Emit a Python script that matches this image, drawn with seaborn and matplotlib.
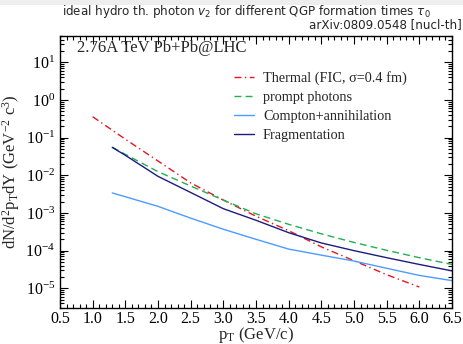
import matplotlib
matplotlib.use("Agg")
import matplotlib.pyplot as plt
from matplotlib.ticker import MultipleLocator, FixedLocator, LogFormatterSciNotation, NullFormatter
from matplotlib.patches import Rectangle
import seaborn as sns
import pandas as pd

# photon spectra, dN/d^2pT dY vs pT (GeV/c)
pt_thermal = [1.0, 1.5, 2.0, 2.5, 3.0, 3.5, 4.0, 4.5, 5.0, 5.5, 6.0]
thermal = [0.36, 0.091, 0.024, 6.3e-3, 2.2e-3, 8.2e-4, 3.4e-4, 1.26e-4, 5.4e-5, 2.3e-5, 1.08e-5]

pt_pqcd = [1.3, 1.5, 2.0, 2.5, 3.0, 3.5, 4.0, 4.5, 5.0, 5.5, 6.0, 6.5]
prompt = [0.056, 0.036, 0.0125, 5.2e-3, 2.2e-3, 9.5e-4, 5.0e-4, 2.8e-4, 1.65e-4, 1.02e-4, 6.5e-5, 4.3e-5]
compton = [3.4e-3, 2.7e-3, 1.5e-3, 7.3e-4, 3.7e-4, 2.0e-4, 1.1e-4, 7.6e-5, 5.3e-5, 3.4e-5, 2.2e-5, 1.6e-5]
fragmentation = [0.055, 0.034, 9.4e-3, 3.5e-3, 1.3e-3, 6.4e-4, 3.0e-4, 1.6e-4, 1.0e-4, 6.5e-5, 4.3e-5, 2.9e-5]

labels = ["Thermal (FIC, \u03c3=0.4 fm)", "prompt photons",
          "Compton+annihilation", "Fragmentation"]
x_ticks = [0.5, 1.0, 1.5, 2.0, 2.5, 3.0, 3.5, 4.0, 4.5, 5.0, 5.5, 6.0, 6.5]
y_ticks = [1e-5, 1e-4, 1e-3, 1e-2, 1e-1, 1e0, 1e1]

sns.set_style("ticks")
plt.rcParams["font.family"] = ["Liberation Serif", "DejaVu Serif"]
plt.rcParams["mathtext.fontset"] = "custom"
plt.rcParams["mathtext.rm"] = "Liberation Serif"
plt.rcParams["mathtext.it"] = "Liberation Serif:italic"

fig = plt.figure(figsize=(4.64, 3.44), dpi=100)
fig.patch.set_facecolor("white")
fig.patches.append(Rectangle((0, 1 - 5 / 344), 1, 5 / 344, transform=fig.transFigure,
                             facecolor="#eeeeee", edgecolor="none", zorder=0))
ax = fig.add_axes([60 / 464, 36 / 344, 392 / 464, 272 / 344])

series = [
    (pt_thermal, thermal, labels[0], "#e8141e", (0, (5, 2.5, 1, 2.5))),
    (pt_pqcd, prompt, labels[1], "#1fb050", (0, (5, 3))),
    (pt_pqcd, compton, labels[2], "#4a9cff", "-"),
    (pt_pqcd, fragmentation, labels[3], "#1c1c80", "-"),
]
for x, y, lab, col, ls in series:
    df = pd.DataFrame({"pT": x, "dN": y})
    sns.lineplot(data=df, x="pT", y="dN", ax=ax, color=col, linewidth=1.0,
                 linestyle=ls, label=lab)

ax.set_yscale("log")
ax.set_xlim(0.5, 6.5)
ax.set_ylim(3e-6, 50)
ax.set_xticks(x_ticks)
ax.set_xticklabels([f"{v:.1f}" for v in x_ticks])
ax.xaxis.set_minor_locator(MultipleLocator(0.1))
ax.yaxis.set_major_locator(FixedLocator(y_ticks))
ax.yaxis.set_major_formatter(LogFormatterSciNotation())
minor_y = [m * 10.0 ** e for e in range(-6, 2) for m in range(2, 10)
           if 3e-6 <= m * 10.0 ** e <= 50]
ax.yaxis.set_minor_locator(FixedLocator(minor_y))
ax.yaxis.set_minor_formatter(NullFormatter())
ax.tick_params(which="both", direction="in", top=True, right=True, width=0.8,
               labelsize=11.5, colors="black")
ax.tick_params(axis="x", which="major", pad=2)
ax.tick_params(which="major", length=6)
ax.tick_params(which="minor", length=3)
for s in ax.spines.values():
    s.set_linewidth(1.0)
    s.set_color("black")

ax.set_xlabel("p$_\\mathrm{T}$ (GeV/c)", fontsize=12, labelpad=-1)
ax.set_ylabel("dN/d$^2$p$_\\mathrm{T}$dY (GeV$^{-2}$ c$^{3}$)", fontsize=12, labelpad=2)

ax.text(0.043, 0.957, "2.76A TeV Pb+Pb@LHC", transform=ax.transAxes,
        fontsize=12, va="center", ha="left")

leg = ax.legend(loc="upper left", bbox_to_anchor=(0.445, 0.872), frameon=False,
                fontsize=10.3, handlelength=1.4, handletextpad=0.6, labelspacing=0.42,
                borderaxespad=0, borderpad=0)

fig.text(246 / 464, 1 - 11 / 344,
         "ideal hydro th. photon $v_2$ for different QGP formation times $\\tau_0$",
         ha="center", va="center", fontsize=8.6, family=["DejaVu Sans"],
         math_fontfamily="dejavusans")
fig.text(462 / 464, 1 - 25 / 344, "arXiv:0809.0548 [nucl-th]",
         ha="right", va="center", fontsize=8.6, family=["DejaVu Sans"])

fig.savefig("out.png", dpi=100)
